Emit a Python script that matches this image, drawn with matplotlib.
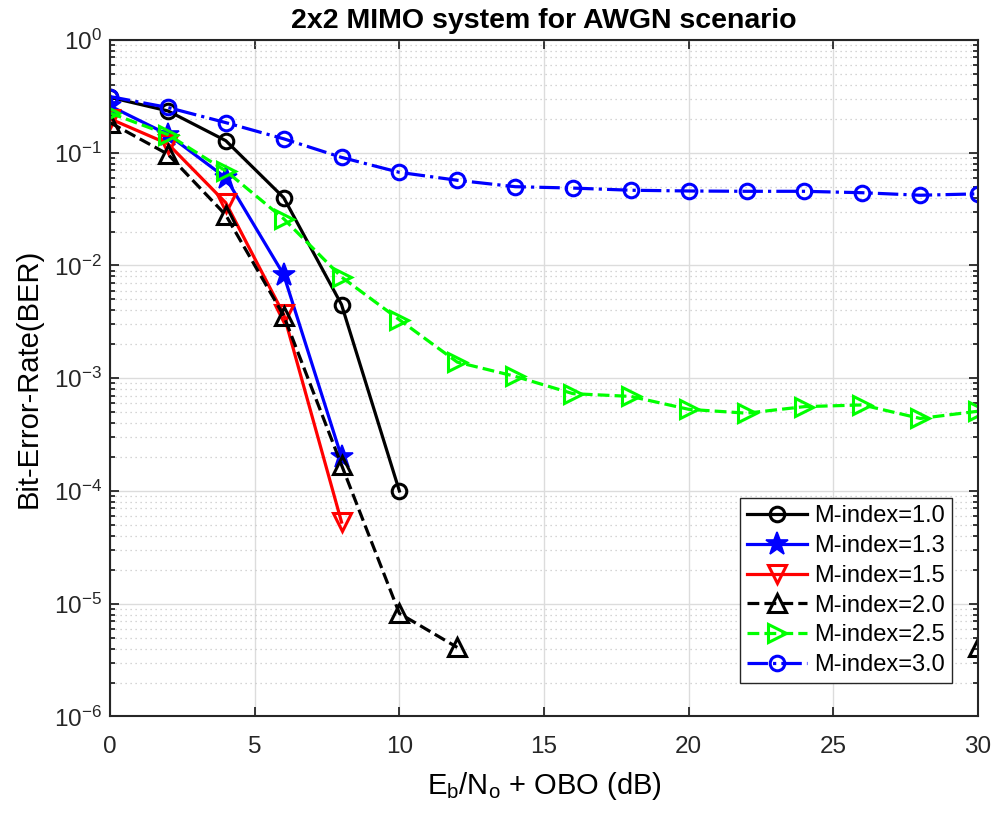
import matplotlib.pyplot as plt
import numpy as np
from matplotlib.ticker import FixedLocator, NullFormatter

plt.rcParams["font.family"] = ["Liberation Sans", "DejaVu Sans"]
plt.rcParams["axes.unicode_minus"] = False

snr = np.arange(0, 32, 2)

ber_10 = [0.31, 0.235, 0.128, 0.040, 0.0045, 1.0e-4] + [np.nan] * 10
ber_13 = [0.26, 0.145, 0.060, 0.0083, 2.0e-4] + [np.nan] * 11
ber_15 = [0.20, 0.12, 0.036, 0.0037, 5.3e-5] + [np.nan] * 11
ber_20 = [0.185, 0.097, 0.028, 0.0036, 1.7e-4, 8.2e-6, 4.1e-6] + [np.nan] * 8 + [4.1e-6]
ber_25 = [0.225, 0.145, 0.069, 0.026, 0.0079, 0.0033, 0.00139, 0.00104,
          7.3e-4, 6.9e-4, 5.3e-4, 4.9e-4, 5.6e-4, 5.8e-4, 4.4e-4, 5.1e-4]
ber_30 = [0.315, 0.252, 0.185, 0.133, 0.091, 0.067, 0.057, 0.050,
          0.0486, 0.0465, 0.0458, 0.0455, 0.0455, 0.0442, 0.0420, 0.0432]

labels = ["M-index=1.0", "M-index=1.3", "M-index=1.5",
          "M-index=2.0", "M-index=2.5", "M-index=3.0"]

fig = plt.figure(figsize=(9.95, 8.13), dpi=100)
ax = fig.add_axes([0.1106, 0.1187, 0.8724, 0.8321])

lw = 2.3
mew = 2.2
ax.semilogy(snr, ber_10, "k-o", lw=lw, ms=10.5, mew=mew, mfc="none", label=labels[0])
ax.semilogy(snr, ber_13, "b-*", lw=lw, ms=17, mew=1.2, label=labels[1])
ax.semilogy(snr, ber_15, "r-v", lw=lw, ms=13, mew=mew, mfc="none", label=labels[2])
ax.semilogy(snr, ber_20, "k--^", lw=lw, ms=13, mew=mew, mfc="none", label=labels[3])
ax.semilogy(snr, ber_25, color=(0, 1, 0), ls="--", marker=">", lw=lw, ms=13,
            mew=mew, mfc="none", label=labels[4])
ax.semilogy(snr, ber_30, "b-.o", lw=lw, ms=10.5, mew=mew, mfc="none", label=labels[5])

ax.set_xlim(0, 30)
ax.set_ylim(1e-6, 1)
ax.set_xticks(np.arange(0, 31, 5))
ax.set_yticks(10.0 ** np.arange(-6, 1))
ax.yaxis.set_minor_locator(FixedLocator([m * 10.0 ** e for e in range(-6, 0) for m in range(2, 10)]))
ax.yaxis.set_minor_formatter(NullFormatter())

ax.grid(True, which="major", color="#dcdcdc", lw=1.0)
ax.grid(True, which="minor", axis="y", color="#c8c8c8", ls=(0, (1, 3)), lw=0.9)
ax.set_axisbelow(True)
ax.tick_params(which="both", direction="in", top=True, right=True, labelsize=17.5,
               width=1.3, colors="#262626")
ax.tick_params(which="major", length=6.5)
ax.tick_params(which="minor", length=3.3)
ax.tick_params(axis="x", pad=14)
ax.tick_params(axis="y", pad=6)
for s in ax.spines.values():
    s.set_linewidth(1.5)
    s.set_color("#262626")

ax.set_title("2x2 MIMO system for AWGN scenario", fontsize=20.5, fontweight="bold", pad=8.5)
ax.set_xlabel(r"E$_\mathregular{b}$/N$_\mathregular{o}$ + OBO (dB)", fontsize=21, labelpad=9)
ax.set_ylabel("Bit-Error-Rate(BER)", fontsize=21, labelpad=8)

leg = ax.legend(loc="lower right", bbox_to_anchor=(0.970, 0.049), borderaxespad=0,
                fontsize=17, fancybox=False, framealpha=1, edgecolor="#262626",
                handlelength=2.55, borderpad=0.3, labelspacing=0.33, handletextpad=0.3)
leg.get_frame().set_linewidth(1.0)

fig.savefig("out.png", dpi=100)
